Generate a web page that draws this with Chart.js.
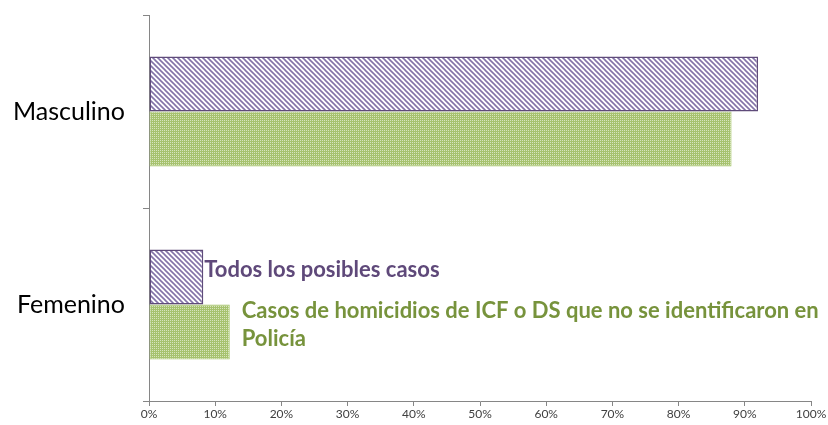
<!DOCTYPE html>
<html>
<head>
<meta charset="utf-8">
<script src="https://cdn.jsdelivr.net/npm/chart.js@4.4.0/dist/chart.umd.min.js"></script>
<style>
  body { margin: 0; background: #fff; }
</style>
</head>
<body>
<canvas id="chart" width="828" height="425"></canvas>
<script>
// data
var categories = ['Masculino', 'Femenino'];
var todosCasos = [92, 8.2];
var noIdentificados = [88, 12.2];
var seriesNames = [
    'Todos los posibles casos',
    'Casos de homicidios de ICF o DS que no se identificaron en Policía'
];
var labelledCategory = 'Femenino';

// hatch fills like the old office patterns
function stripePattern() {
    var c = document.createElement('canvas');
    c.width = 5; c.height = 5;
    var g = c.getContext('2d');
    g.fillStyle = '#fff';
    g.fillRect(0, 0, 5, 5);
    g.strokeStyle = '#8373a8';
    g.lineWidth = 1.6;
    for (var k = -1; k <= 1; k++) {
        g.beginPath();
        g.moveTo(k * 5 - 1, -1);
        g.lineTo(k * 5 + 6, 6);
        g.stroke();
    }
    return g.createPattern(c, 'repeat');
}

function dotPattern() {
    var c = document.createElement('canvas');
    c.width = 2; c.height = 2;
    var g = c.getContext('2d');
    g.fillStyle = '#a6c26e';
    g.fillRect(0, 0, 2, 2);
    g.fillStyle = '#d6e4bd';
    g.fillRect(0, 0, 1, 1);
    return g.createPattern(c, 'repeat');
}

// text beside the Femenino bars, acts as the legend
var barLabels = {
    id: 'barLabels',
    afterDatasetsDraw: function(chart) {
        var ctx = chart.ctx;
        var idx = categories.indexOf(labelledCategory);
        ctx.save();
        ctx.font = 'bold 22px Lato';
        ctx.textBaseline = 'middle';
        ctx.textAlign = 'left';
        chart.data.datasets.forEach(function(ds, i) {
            var bar = chart.getDatasetMeta(i).data[idx];
            var x = bar.x + ds.labelGap;
            var maxW = chart.width - x - 2;
            var words = ds.label.split(' ');
            var lines = [];
            var line = '';
            words.forEach(function(w) {
                var test = line ? line + ' ' + w : w;
                if (ctx.measureText(test).width > maxW && line) {
                    lines.push(line);
                    line = w;
                } else {
                    line = test;
                }
            });
            lines.push(line);
            ctx.fillStyle = ds.labelColor;
            var y = bar.y + ds.labelShift;
            lines.forEach(function(l, j) {
                ctx.fillText(l, x, y + j * 28);
            });
        });
        ctx.restore();
    }
};

var ctx = document.getElementById('chart').getContext('2d');
var chart = new Chart(ctx, {
    type: 'bar',
    data: {
        labels: categories,
        datasets: [{
            label: seriesNames[0],
            data: todosCasos,
            backgroundColor: stripePattern(),
            borderColor: '#5f4b7a',
            borderWidth: 1.5,
            borderSkipped: false,
            labelColor: '#5f497a',
            labelGap: 1,
            labelShift: -7
        }, {
            label: seriesNames[1],
            data: noIdentificados,
            backgroundColor: dotPattern(),
            borderColor: '#a4c46a',
            borderWidth: 1,
            borderSkipped: false,
            labelColor: '#77933c',
            labelGap: 12,
            labelShift: -21
        }]
    },
    options: {
        indexAxis: 'y',
        responsive: false,
        devicePixelRatio: 1,
        animation: false,
        categoryPercentage: 0.57,
        barPercentage: 1,
        layout: { padding: { top: 15, right: 17, left: 0, bottom: 0 } },
        plugins: {
            legend: { display: false },
            tooltip: { enabled: false }
        },
        scales: {
            x: {
                min: 0,
                max: 100,
                ticks: {
                    stepSize: 10,
                    color: '#404040',
                    font: { family: 'Lato', size: 12 },
                    padding: 1,
                    callback: function(v) { return v + '%'; }
                },
                grid: { drawOnChartArea: false, tickLength: 5, color: '#868686' },
                border: { color: '#868686' },
                afterFit: function(s) { s.height = 24; s.paddingLeft = 0; }
            },
            y: {
                ticks: {
                    color: '#000',
                    font: { family: 'Lato', size: 25 },
                    padding: 18
                },
                grid: { drawOnChartArea: false, tickLength: 6, color: '#868686' },
                border: { color: '#868686' },
                afterFit: function(s) { s.width = 149; s.paddingTop = 0; s.paddingBottom = 0; }
            }
        }
    },
    plugins: [barLabels]
});
</script>
</body>
</html>
